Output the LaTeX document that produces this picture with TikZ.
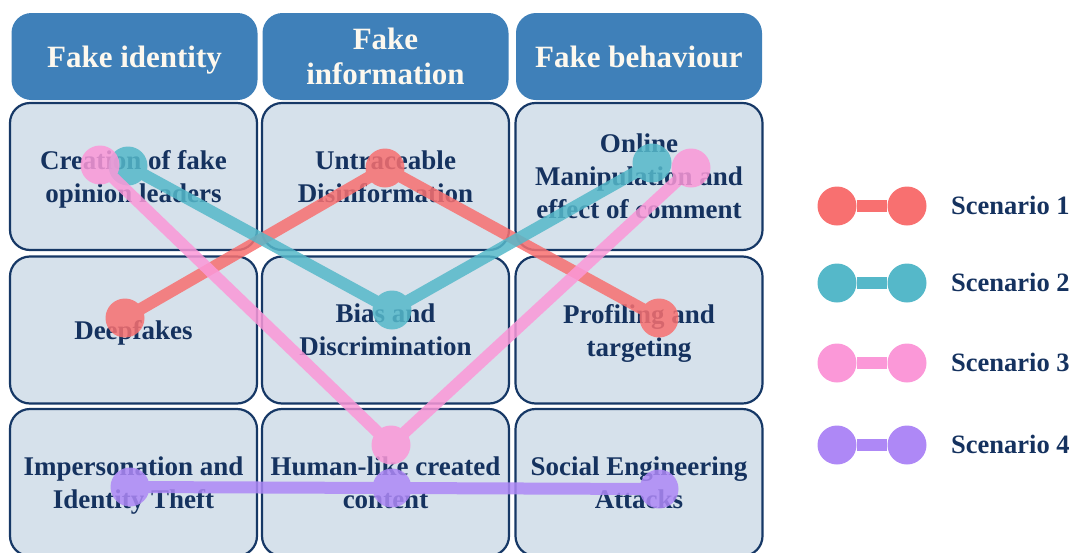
\documentclass[tikz,border=0pt]{standalone}
\usepackage{fontspec}
\setmainfont{Liberation Serif}
\definecolor{ink}{HTML}{15325F}
\definecolor{boxline}{HTML}{163866}
\definecolor{boxfill}{HTML}{D6E1EB}
\definecolor{headfill}{HTML}{3F80B9}
\definecolor{cream}{HTML}{FDF8EE}
\definecolor{sone}{HTML}{F87070}
\definecolor{stwo}{HTML}{55B8C9}
\definecolor{sthree}{HTML}{FB98D8}
\definecolor{sfour}{HTML}{AE88F6}
\begin{document}
\begin{tikzpicture}[x=1pt,y=-1pt,
  cell/.style={draw=boxline, line width=2.2pt, fill=boxfill, rounded corners=20pt,
    minimum width=247pt, minimum height=147pt, inner sep=0pt, text=ink,
    font=\bfseries\fontsize{27}{33}\selectfont, align=center, text depth=0pt},
  head/.style={fill=headfill, rounded corners=20pt, minimum width=246pt,
    minimum height=87pt, inner sep=0pt, text=cream,
    font=\bfseries\fontsize{31}{35}\selectfont, align=center, text depth=0pt},
  dot/.style={circle, inner sep=0pt, minimum size=39pt},
  link/.style={line width=12pt},
  legtext/.style={anchor=base west, inner sep=0pt, text=ink,
    font=\bfseries\fontsize{26.5}{30}\selectfont},
  scen/.style={transparency group, opacity=0.85}]
\useasboundingbox (0,0) rectangle (1074,552);
\clip (0,0) rectangle (1074,552);

% column headers
\node[head] (h1) at (134.5,56.5) {Fake identity};
\node[head] (h2) at (385.5,56.5) {Fake\\information};
\node[head] (h3) at (639,56.5) {Fake behaviour};

% grid of cells
\node[cell] (c11) at (133.5,176.5) {Creation of fake\\opinion leaders};
\node[cell] (c12) at (385.5,176.5) {Untraceable\\Disinformation};
\node[cell] (c13) at (639,176.5) {Online\\Manipulation and\\effect of comment};
\node[cell] (c21) at (133.5,330) {Deepfakes};
\node[cell] (c22) at (385.5,330) {Bias and\\Discrimination};
\node[cell] (c23) at (639,330) {Profiling and\\targeting};
\node[cell] (c31) at (133.5,482.5) {Impersonation and\\Identity Theft};
\node[cell] (c32) at (385.5,482.5) {Human-like created\\content};
\node[cell] (c33) at (639,482.5) {Social Engineering\\Attacks};

% scenario 1
\begin{scope}[scen]
  \node[dot, fill=sone] (a1) at (125,318) {};
  \node[dot, fill=sone] (a2) at (385,168) {};
  \node[dot, fill=sone] (a3) at (659,318) {};
  \draw[link, sone] (a1.center) -- (a2.center) -- (a3.center);
\end{scope}
% scenario 2
\begin{scope}[scen]
  \node[dot, fill=stwo] (b1) at (128,166) {};
  \node[dot, fill=stwo] (b2) at (392,310) {};
  \node[dot, fill=stwo] (b3) at (652,163) {};
  \draw[link, stwo] (b1.center) -- (b2.center) -- (b3.center);
\end{scope}
% scenario 3
\begin{scope}[scen]
  \node[dot, fill=sthree] (d1) at (100,165) {};
  \node[dot, fill=sthree] (d2) at (391,445) {};
  \node[dot, fill=sthree] (d3) at (691,168) {};
  \draw[link, sthree] (d1.center) -- (d2.center) -- (d3.center);
\end{scope}
% scenario 4
\begin{scope}[scen]
  \node[dot, fill=sfour] (e1) at (130,487) {};
  \node[dot, fill=sfour] (e2) at (392,488) {};
  \node[dot, fill=sfour] (e3) at (659,489) {};
  \draw[link, sfour] (e1.center) -- (e2.center) -- (e3.center);
\end{scope}

% legend
\foreach \c/\y/\n in {sone/206/1, stwo/283/2, sthree/363/3, sfour/445/4}{
  \node[dot, fill=\c] (l\n a) at (837,\y) {};
  \node[dot, fill=\c] (l\n b) at (907,\y) {};
  \draw[link, \c] (l\n a) -- (l\n b);
  \node[legtext] (l\n t) at (951,\y+8.5) {Scenario \n};
}
\end{tikzpicture}
\end{document}
